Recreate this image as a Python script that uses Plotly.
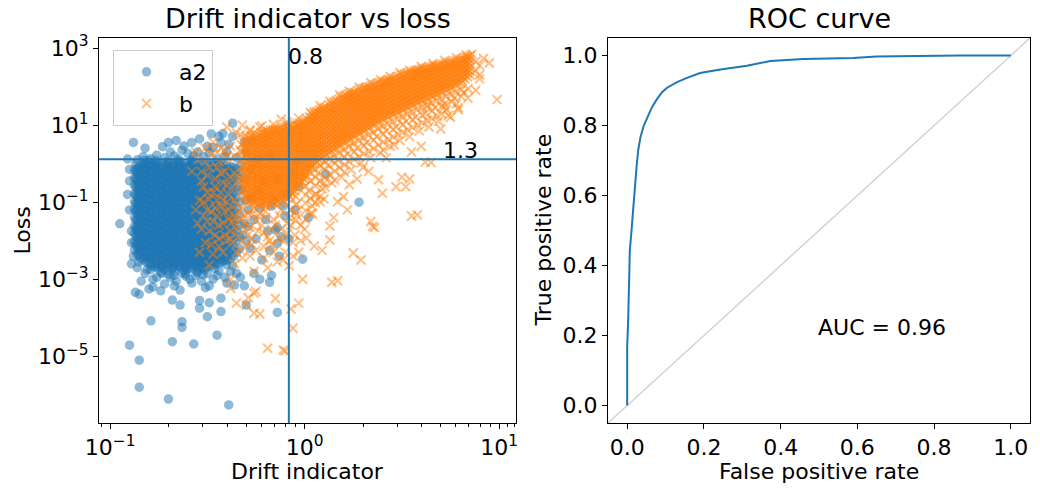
import numpy as np
import plotly.graph_objects as go

# values, in log10 units: (log10 drift indicator, log10 loss)
# dense parts are written column by column: (log10 drift, [log10 loss, ...])
a2_core_columns = [
    (-0.875, [-2.24, -2.03, -1.81, -1.62, -1.40, -1.19, -0.99, -0.78, -0.56, -0.37, -0.16]),
    (-0.8675, [-2.10, -1.88, -1.67, -1.46, -1.24, -1.03, -0.82, -0.61, -0.40, -0.20, 0.00]),
    (-0.860, [-2.35, -2.18, -2.05, -1.90, -1.74, -1.61, -1.46, -1.31, -1.17, -1.01, -0.87, -0.73, -0.57, -0.44, -0.28, -0.12]),
    (-0.8525, [-2.55, -2.38, -2.23, -2.08, -1.93, -1.78, -1.63, -1.48, -1.33, -1.18, -1.03, -0.88, -0.73, -0.58, -0.43, -0.28, -0.13]),
    (-0.845, [-2.46, -2.29, -2.16, -1.99, -1.86, -1.69, -1.55, -1.40, -1.26, -1.09, -0.95, -0.81, -0.64, -0.50, -0.36, -0.19, -0.06]),
    (-0.830, [-2.50, -2.36, -2.20, -2.06, -1.91, -1.77, -1.61, -1.47, -1.32, -1.16, -1.03, -0.86, -0.72, -0.57, -0.42, -0.27, -0.11, 0.00]),
    (-0.8225, [-2.42, -2.28, -2.13, -1.98, -1.83, -1.68, -1.53, -1.38, -1.23, -1.08, -0.93, -0.78, -0.63, -0.48, -0.33, -0.18, -0.03, 0.08]),
    (-0.815, [-2.55, -2.41, -2.24, -2.11, -1.94, -1.81, -1.64, -1.51, -1.35, -1.20, -1.06, -0.89, -0.76, -0.59, -0.46, -0.29, -0.15, 0.01]),
    (-0.800, [-2.60, -2.44, -2.30, -2.14, -2.00, -1.84, -1.70, -1.54, -1.40, -1.24, -1.10, -0.94, -0.80, -0.64, -0.50, -0.34, -0.20, -0.04]),
    (-0.7925, [-2.75, -2.58, -2.43, -2.28, -2.13, -1.98, -1.83, -1.68, -1.53, -1.38, -1.23, -1.08, -0.93, -0.78, -0.63, -0.48, -0.33, -0.18, -0.03]),
    (-0.785, [-2.66, -2.48, -2.35, -2.19, -2.04, -1.88, -1.74, -1.58, -1.43, -1.29, -1.13, -0.98, -0.84, -0.67, -0.53, -0.38, -0.22, -0.08]),
    (-0.770, [-2.68, -2.52, -2.37, -2.22, -2.07, -1.92, -1.77, -1.62, -1.47, -1.32, -1.17, -1.02, -0.87, -0.72, -0.57, -0.42, -0.27, -0.12, 0.01]),
    (-0.7625, [-2.62, -2.45, -2.30, -2.15, -2.00, -1.85, -1.70, -1.55, -1.40, -1.25, -1.10, -0.95, -0.80, -0.65, -0.50, -0.35, -0.20, -0.05, 0.08]),
    (-0.755, [-2.70, -2.56, -2.39, -2.26, -2.09, -1.96, -1.79, -1.66, -1.49, -1.36, -1.19, -1.06, -0.89, -0.76, -0.59, -0.46, -0.29, -0.16, 0.02]),
    (-0.740, [-2.64, -2.49, -2.35, -2.19, -2.05, -1.89, -1.75, -1.59, -1.45, -1.29, -1.15, -0.99, -0.85, -0.69, -0.55, -0.39, -0.25, -0.09]),
    (-0.7325, [-2.85, -2.68, -2.53, -2.38, -2.23, -2.08, -1.93, -1.78, -1.63, -1.48, -1.33, -1.18, -1.03, -0.88, -0.73, -0.58, -0.43, -0.28, -0.13, 0.02]),
    (-0.725, [-2.74, -2.61, -2.46, -2.32, -2.16, -2.02, -1.86, -1.71, -1.57, -1.42, -1.27, -1.12, -0.97, -0.82, -0.68, -0.52, -0.37, -0.23, -0.07]),
    (-0.710, [-2.77, -2.58, -2.43, -2.28, -2.13, -1.98, -1.83, -1.68, -1.53, -1.38, -1.23, -1.08, -0.93, -0.78, -0.63, -0.48, -0.33, -0.18, -0.03]),
    (-0.7025, [-2.63, -2.47, -2.32, -2.17, -2.02, -1.87, -1.72, -1.57, -1.42, -1.27, -1.12, -0.97, -0.82, -0.67, -0.52, -0.37, -0.22, -0.07, 0.06]),
    (-0.695, [-2.69, -2.54, -2.40, -2.24, -2.10, -1.93, -1.80, -1.63, -1.50, -1.34, -1.20, -1.03, -0.90, -0.74, -0.60, -0.44, -0.30, -0.14, 0.03]),
    (-0.680, [-2.72, -2.57, -2.44, -2.29, -2.14, -1.99, -1.84, -1.69, -1.54, -1.39, -1.24, -1.09, -0.94, -0.79, -0.64, -0.49, -0.34, -0.19, -0.04]),
    (-0.6725, [-2.90, -2.70, -2.55, -2.40, -2.25, -2.10, -1.95, -1.80, -1.65, -1.50, -1.35, -1.20, -1.05, -0.90, -0.75, -0.60, -0.45, -0.30, -0.15, 0.00]),
    (-0.665, [-2.79, -2.63, -2.48, -2.33, -2.18, -2.03, -1.88, -1.73, -1.58, -1.43, -1.28, -1.13, -0.98, -0.83, -0.68, -0.53, -0.38, -0.23, -0.08]),
    (-0.650, [-2.66, -2.52, -2.37, -2.22, -2.07, -1.92, -1.77, -1.62, -1.47, -1.32, -1.17, -1.02, -0.87, -0.72, -0.57, -0.42, -0.27, -0.12, 0.03]),
    (-0.6425, [-2.63, -2.48, -2.33, -2.18, -2.03, -1.88, -1.73, -1.58, -1.43, -1.28, -1.13, -0.98, -0.83, -0.68, -0.53, -0.38, -0.23, -0.08, 0.07]),
    (-0.635, [-2.70, -2.56, -2.41, -2.25, -2.11, -1.96, -1.80, -1.66, -1.51, -1.35, -1.21, -1.06, -0.90, -0.76, -0.61, -0.45, -0.31, -0.16, 0.02]),
    (-0.620, [-2.78, -2.64, -2.50, -2.35, -2.20, -2.05, -1.90, -1.75, -1.60, -1.45, -1.30, -1.15, -1.00, -0.85, -0.70, -0.55, -0.40, -0.25, -0.10]),
    (-0.6125, [-2.86, -2.68, -2.54, -2.39, -2.24, -2.09, -1.94, -1.79, -1.64, -1.49, -1.34, -1.19, -1.04, -0.89, -0.74, -0.59, -0.44, -0.29, -0.14, 0.00]),
    (-0.605, [-2.75, -2.61, -2.47, -2.31, -2.17, -2.02, -1.87, -1.72, -1.57, -1.42, -1.27, -1.12, -0.97, -0.82, -0.67, -0.52, -0.37, -0.22, -0.07]),
    (-0.590, [-2.70, -2.55, -2.42, -2.27, -2.12, -1.97, -1.82, -1.67, -1.52, -1.37, -1.22, -1.07, -0.92, -0.77, -0.62, -0.47, -0.32, -0.17, -0.02]),
    (-0.5825, [-2.72, -2.57, -2.43, -2.28, -2.13, -1.98, -1.83, -1.68, -1.53, -1.38, -1.23, -1.08, -0.93, -0.78, -0.63, -0.48, -0.33, -0.18, -0.05, 0.06]),
    (-0.575, [-2.64, -2.50, -2.35, -2.20, -2.05, -1.90, -1.75, -1.60, -1.45, -1.30, -1.15, -1.00, -0.85, -0.70, -0.55, -0.40, -0.25, -0.10, 0.02]),
    (-0.560, [-2.66, -2.52, -2.38, -2.23, -2.09, -1.94, -1.79, -1.64, -1.49, -1.34, -1.19, -1.04, -0.89, -0.74, -0.59, -0.44, -0.29, -0.14, 0.01]),
    (-0.5525, [-2.80, -2.63, -2.49, -2.34, -2.19, -2.04, -1.89, -1.74, -1.59, -1.44, -1.29, -1.14, -0.99, -0.84, -0.69, -0.54, -0.39, -0.24, -0.10]),
    (-0.545, [-2.70, -2.57, -2.42, -2.27, -2.12, -1.97, -1.82, -1.67, -1.52, -1.37, -1.22, -1.07, -0.92, -0.77, -0.62, -0.47, -0.32, -0.17, -0.03]),
    (-0.530, [-2.72, -2.58, -2.44, -2.29, -2.14, -1.99, -1.84, -1.69, -1.54, -1.39, -1.24, -1.09, -0.94, -0.79, -0.64, -0.49, -0.34, -0.19, -0.04]),
    (-0.5225, [-2.88, -2.68, -2.53, -2.38, -2.23, -2.08, -1.93, -1.78, -1.63, -1.48, -1.33, -1.18, -1.03, -0.88, -0.73, -0.58, -0.43, -0.28, -0.13, 0.03]),
    (-0.515, [-2.75, -2.60, -2.46, -2.31, -2.16, -2.01, -1.86, -1.71, -1.56, -1.41, -1.26, -1.11, -0.96, -0.81, -0.66, -0.51, -0.36, -0.21, -0.06]),
    (-0.500, [-2.68, -2.54, -2.40, -2.25, -2.10, -1.95, -1.80, -1.65, -1.50, -1.35, -1.20, -1.05, -0.90, -0.75, -0.60, -0.45, -0.30, -0.15, 0.00]),
    (-0.4925, [-2.58, -2.44, -2.29, -2.15, -2.00, -1.85, -1.70, -1.55, -1.40, -1.25, -1.10, -0.95, -0.80, -0.65, -0.50, -0.35, -0.20, -0.06]),
    (-0.485, [-2.65, -2.51, -2.37, -2.22, -2.08, -1.93, -1.78, -1.63, -1.48, -1.33, -1.18, -1.03, -0.88, -0.73, -0.58, -0.43, -0.28, -0.13, 0.02]),
    (-0.470, [-2.62, -2.48, -2.33, -2.18, -2.03, -1.88, -1.73, -1.58, -1.43, -1.28, -1.13, -0.98, -0.83, -0.68, -0.53, -0.38, -0.23, -0.08]),
    (-0.4625, [-2.72, -2.53, -2.38, -2.23, -2.08, -1.93, -1.78, -1.63, -1.48, -1.33, -1.18, -1.03, -0.88, -0.73, -0.58, -0.43, -0.28, -0.13, 0.04]),
    (-0.455, [-2.60, -2.44, -2.30, -2.15, -2.00, -1.85, -1.70, -1.55, -1.40, -1.25, -1.10, -0.95, -0.80, -0.65, -0.50, -0.35, -0.20, -0.05]),
    (-0.440, [-2.58, -2.42, -2.27, -2.12, -1.97, -1.82, -1.67, -1.52, -1.37, -1.22, -1.07, -0.92, -0.77, -0.62, -0.47, -0.32, -0.17, -0.02]),
    (-0.4325, [-2.48, -2.31, -2.16, -2.01, -1.86, -1.71, -1.56, -1.41, -1.26, -1.11, -0.96, -0.81, -0.66, -0.51, -0.36, -0.21, -0.07]),
    (-0.425, [-2.55, -2.38, -2.23, -2.08, -1.93, -1.78, -1.63, -1.48, -1.33, -1.18, -1.03, -0.88, -0.73, -0.58, -0.43, -0.28, -0.13, 0.00]),
    (-0.410, [-2.52, -2.35, -2.18, -2.01, -1.84, -1.67, -1.50, -1.33, -1.16, -0.99, -0.82, -0.65, -0.48, -0.31, -0.15]),
    (-0.4025, [-2.62, -2.41, -2.22, -2.04, -1.86, -1.68, -1.49, -1.31, -1.13, -0.95, -0.77, -0.59, -0.41, -0.23, -0.05]),
    (-0.395, [-2.50, -2.31, -2.12, -1.95, -1.77, -1.58, -1.40, -1.22, -1.04, -0.86, -0.68, -0.50, -0.32, -0.14]),
    (-0.380, [-2.45, -2.22, -2.00, -1.78, -1.56, -1.34, -1.12, -0.90, -0.68, -0.46, -0.24, -0.08]),
    (-0.3725, [-2.30, -2.05, -1.82, -1.58, -1.35, -1.11, -0.88, -0.64, -0.41, -0.19]),
    (-0.365, [-2.40, -2.17, -1.93, -1.70, -1.46, -1.23, -0.99, -0.76, -0.52, -0.29, -0.10]),
    (-0.350, [-2.30, -2.00, -1.72, -1.45, -1.15, -0.88, -0.60, -0.32, -0.15]),
    (-0.335, [-2.20, -1.90, -1.60, -1.30, -1.00, -0.70, -0.40, -0.20]),
]

a2_extra_points = [
    # ragged edges of the cloud
    (-0.86, 0.10), (-0.83, 0.18), (-0.80, 0.08), (-0.76, 0.22), (-0.72, 0.15), (-0.69, 0.30),
    (-0.65, 0.12), (-0.63, 0.35), (-0.58, 0.10), (-0.55, 0.30), (-0.52, 0.18), (-0.49, 0.28),
    (-0.45, 0.12), (-0.43, 0.55), (-0.41, 0.18), (-0.39, 0.50), (-0.70, 0.55), (-0.82, 0.40),
    (-0.66, 0.60), (-0.58, 0.55),
    (-0.90, -0.45), (-0.90, -1.20), (-0.89, -1.75), (-0.91, -0.80), (-0.89, -2.05), (-0.90, -0.15),
    (-0.88, -2.40), (-0.89, -2.60),
    (-0.86, -2.70), (-0.81, -2.75), (-0.78, -3.00), (-0.74, -2.82), (-0.69, -2.95), (-0.66, -3.05),
    (-0.63, -2.85), (-0.59, -3.00), (-0.56, -2.90), (-0.53, -3.05), (-0.50, -2.85), (-0.47, -3.00),
    (-0.44, -2.78), (-0.41, -2.95), (-0.37, -2.65), (-0.35, -2.85), (-0.80, -3.25), (-0.64, -3.28),
    (-0.51, -3.22), (-0.36, -3.15),
    # thinning out under the b cloud
    (-0.33, -0.05), (-0.32, -0.65), (-0.31, -1.55), (-0.30, -2.00), (-0.28, -0.15), (-0.27, -0.90),
    (-0.26, -1.45), (-0.25, -1.95), (-0.24, 0.10), (-0.23, -1.15), (-0.21, -0.45), (-0.19, -1.75),
    (-0.18, -2.25), (-0.16, -0.95), (-0.13, -2.40), (-0.11, -1.10), (-0.08, -1.95), (-0.05, -1.20),
    (-0.03, -0.60), (0.02, -1.40),
    (-0.31, -0.40), (-0.29, -1.20), (-0.32, -1.85), (-0.30, -0.95), (-0.28, -2.20), (-0.30, 0.30),
    (-0.24, -0.70), (-0.20, -1.45), (-0.17, -1.10), (-0.22, -2.50), (-0.18, 0.20), (-0.14, -0.40),
    (-0.12, -1.90), (-0.09, -0.80), (-0.10, -1.35), (-0.06, -0.20), (-0.04, 0.05),
    # lower fringe
    (-0.82, -2.85), (-0.76, -2.95), (-0.70, -2.88), (-0.61, -2.92), (-0.55, -2.83), (-0.45, -2.90),
    (-0.38, -2.80), (-0.33, -2.95), (-0.26, -2.85), (-0.23, -3.00), (-0.84, -3.05), (-0.58, -3.10),
    (-0.40, -3.10), (-0.72, -3.12),
    # outliers
    (-0.95, -1.56), (-0.91, 0.12), (-0.88, 0.55), (-0.90, -4.71), (-0.85, -5.10), (-0.85, -5.80),
    (-0.70, -6.11), (-0.39, -6.26), (-0.79, -4.08), (-0.68, -4.62), (-0.57, -4.68), (-0.45, -4.45),
    (-0.63, -4.10), (-0.63, -4.25), (-0.50, -3.97), (-0.54, -3.75), (-0.43, -3.84), (-0.49, -3.61),
    (-0.43, -3.49), (-0.54, -3.55), (-0.64, -3.67), (-0.68, -3.54), (-0.30, -3.67), (-0.14, -3.86),
    (-0.87, -3.34), (-0.85, -3.39), (-0.74, -3.30), (-0.67, -3.17), (-0.78, -3.20), (-0.49, -3.17),
    (-0.31, -3.17), (-0.18, -3.08), (-0.17, -2.90), (-0.01, -2.48), (-0.14, -2.07), (0.28, -1.00),
    (0.11, -0.27), (-0.14, -1.66), (-0.15, -1.72), (-0.29, -1.63), (-0.40, -1.29),
    # above the loss threshold
    (-0.73, 0.44), (-0.62, 0.46), (-0.54, 0.64), (-0.48, 0.77), (-0.44, 0.71), (-0.42, 0.78),
    (-0.37, 1.05), (-0.37, 0.71), (-0.50, 0.45), (-0.47, 0.42), (-0.67, 0.20), (-0.60, 0.26),
    (-0.31, 0.56), (-0.27, 0.60), (-0.57, 0.20), (-0.79, 0.13), (-0.40, 0.30), (-0.35, 0.15),
]

b_band_columns = [
    (-0.325, [-0.70, -0.52, -0.41, -0.21, -0.09, 0.11, 0.31, 0.49]),
    (-0.3125, [-0.85, -0.65, -0.45, -0.25, -0.05, 0.15, 0.35, 0.55]),
    (-0.300, [-0.97, -0.86, -0.74, -0.66, -0.55, -0.44, -0.36, -0.24, -0.15, -0.04, 0.06, 0.15, 0.26, 0.36, 0.44, 0.56, 0.64, 0.71]),
    (-0.2875, [-0.95, -0.85, -0.75, -0.65, -0.55, -0.45, -0.35, -0.25, -0.15, -0.05, 0.05, 0.15, 0.25, 0.35, 0.45, 0.55, 0.65]),
    (-0.275, [-1.04, -0.93, -0.82, -0.71, -0.62, -0.50, -0.41, -0.30, -0.19, -0.11, 0.01, 0.10, 0.21, 0.29, 0.41, 0.50, 0.61, 0.72]),
    (-0.2625, [-1.00, -0.90, -0.80, -0.70, -0.60, -0.50, -0.40, -0.30, -0.20, -0.10, 0.00, 0.10, 0.20, 0.30, 0.40, 0.50, 0.60, 0.70]),
    (-0.250, [-1.02, -0.95, -0.84, -0.76, -0.64, -0.54, -0.45, -0.34, -0.26, -0.14, -0.05, 0.06, 0.16, 0.24, 0.36, 0.46, 0.55, 0.66, 0.76]),
    (-0.2375, [-1.05, -0.95, -0.85, -0.75, -0.65, -0.55, -0.45, -0.35, -0.25, -0.15, -0.05, 0.05, 0.15, 0.25, 0.35, 0.45, 0.55, 0.65, 0.75]),
    (-0.225, [-1.09, -0.99, -0.88, -0.80, -0.69, -0.58, -0.49, -0.40, -0.29, -0.19, -0.10, 0.01, 0.11, 0.20, 0.31, 0.40, 0.51, 0.60, 0.71, 0.80]),
    (-0.2125, [-1.05, -0.95, -0.85, -0.75, -0.65, -0.55, -0.45, -0.35, -0.25, -0.15, -0.05, 0.05, 0.15, 0.25, 0.35, 0.45, 0.55, 0.65, 0.75, 0.82]),
    (-0.200, [-1.10, -1.01, -0.93, -0.84, -0.72, -0.64, -0.55, -0.44, -0.35, -0.24, -0.15, -0.05, 0.05, 0.15, 0.25, 0.35, 0.45, 0.55, 0.65, 0.76, 0.85]),
    (-0.1875, [-1.03, -0.93, -0.83, -0.73, -0.63, -0.53, -0.43, -0.33, -0.23, -0.13, -0.03, 0.07, 0.17, 0.27, 0.37, 0.47, 0.57, 0.67, 0.77, 0.84]),
    (-0.175, [-1.06, -0.97, -0.88, -0.78, -0.69, -0.59, -0.50, -0.39, -0.30, -0.20, -0.11, 0.00, 0.09, 0.20, 0.30, 0.39, 0.50, 0.60, 0.70, 0.80, 0.87]),
    (-0.1625, [-1.00, -0.90, -0.80, -0.70, -0.60, -0.50, -0.40, -0.30, -0.20, -0.10, 0.00, 0.10, 0.20, 0.30, 0.40, 0.50, 0.60, 0.70, 0.80, 0.88]),
    (-0.150, [-1.04, -0.93, -0.84, -0.74, -0.64, -0.55, -0.45, -0.34, -0.25, -0.15, -0.06, 0.05, 0.14, 0.24, 0.35, 0.44, 0.55, 0.64, 0.75, 0.84, 0.90]),
    (-0.1375, [-0.98, -0.88, -0.78, -0.68, -0.58, -0.48, -0.38, -0.28, -0.18, -0.08, 0.02, 0.12, 0.22, 0.32, 0.42, 0.52, 0.62, 0.72, 0.82, 0.90]),
    (-0.125, [-1.01, -0.90, -0.79, -0.70, -0.60, -0.50, -0.41, -0.30, -0.20, -0.10, 0.00, 0.10, 0.19, 0.30, 0.40, 0.50, 0.60, 0.70, 0.80, 0.91]),
    (-0.1125, [-0.95, -0.85, -0.75, -0.65, -0.55, -0.45, -0.35, -0.25, -0.15, -0.05, 0.05, 0.15, 0.25, 0.35, 0.45, 0.55, 0.65, 0.75, 0.85, 0.93]),
    (-0.100, [-0.99, -0.88, -0.76, -0.65, -0.55, -0.45, -0.36, -0.25, -0.15, -0.05, 0.05, 0.15, 0.26, 0.35, 0.45, 0.55, 0.65, 0.75, 0.85, 0.95]),
    (-0.0875, [-0.90, -0.80, -0.70, -0.60, -0.50, -0.40, -0.30, -0.20, -0.10, 0.00, 0.10, 0.20, 0.30, 0.40, 0.50, 0.60, 0.70, 0.80, 0.90, 0.97]),
    (-0.075, [-0.84, -0.74, -0.64, -0.53, -0.44, -0.34, -0.24, -0.14, -0.04, 0.06, 0.16, 0.26, 0.36, 0.46, 0.56, 0.66, 0.76, 0.86, 0.98]),
    (-0.0625, [-0.78, -0.68, -0.58, -0.48, -0.38, -0.28, -0.18, -0.08, 0.02, 0.12, 0.22, 0.32, 0.42, 0.52, 0.62, 0.72, 0.82, 0.92, 1.00]),
    (-0.050, [-0.70, -0.59, -0.49, -0.40, -0.30, -0.20, -0.10, 0.00, 0.10, 0.20, 0.30, 0.40, 0.50, 0.60, 0.70, 0.80, 0.90, 1.01]),
    (-0.0375, [-0.62, -0.52, -0.42, -0.32, -0.22, -0.12, -0.02, 0.08, 0.18, 0.28, 0.38, 0.48, 0.58, 0.68, 0.78, 0.88, 0.98, 1.04]),
    (-0.025, [-0.54, -0.45, -0.35, -0.24, -0.15, -0.05, 0.05, 0.15, 0.25, 0.35, 0.45, 0.55, 0.65, 0.75, 0.85, 0.95, 1.05]),
    (-0.0125, [-0.47, -0.37, -0.27, -0.17, -0.07, 0.03, 0.13, 0.23, 0.33, 0.43, 0.53, 0.63, 0.73, 0.83, 0.93, 1.03, 1.08]),
    (0.000, [-0.40, -0.30, -0.20, -0.10, 0.00, 0.10, 0.20, 0.30, 0.40, 0.50, 0.60, 0.70, 0.80, 0.90, 1.00, 1.10]),
    (0.0125, [-0.30, -0.20, -0.10, 0.00, 0.10, 0.20, 0.30, 0.40, 0.50, 0.60, 0.70, 0.80, 0.90, 1.00, 1.10, 1.16]),
    (0.025, [-0.20, -0.11, 0.00, 0.09, 0.19, 0.30, 0.40, 0.49, 0.60, 0.70, 0.80, 0.90, 1.00, 1.11, 1.21]),
    (0.0375, [-0.10, 0.00, 0.10, 0.20, 0.30, 0.40, 0.50, 0.60, 0.70, 0.80, 0.90, 1.00, 1.10, 1.20, 1.28]),
    (0.050, [0.00, 0.11, 0.21, 0.30, 0.41, 0.50, 0.61, 0.70, 0.81, 0.91, 1.01, 1.11, 1.21, 1.30, 1.35]),
    (0.0625, [0.05, 0.15, 0.25, 0.35, 0.45, 0.55, 0.65, 0.75, 0.85, 0.95, 1.05, 1.15, 1.25, 1.35]),
    (0.075, [0.10, 0.20, 0.31, 0.41, 0.50, 0.60, 0.71, 0.81, 0.90, 1.00, 1.10, 1.20, 1.30, 1.39]),
    (0.0875, [0.15, 0.25, 0.35, 0.45, 0.55, 0.65, 0.75, 0.85, 0.95, 1.05, 1.15, 1.25, 1.35, 1.42]),
    (0.100, [0.20, 0.30, 0.40, 0.50, 0.61, 0.71, 0.80, 0.90, 1.01, 1.11, 1.20, 1.30, 1.40, 1.45]),
    (0.1125, [0.25, 0.35, 0.45, 0.55, 0.65, 0.75, 0.85, 0.95, 1.05, 1.15, 1.25, 1.35, 1.45]),
    (0.125, [0.29, 0.39, 0.49, 0.60, 0.70, 0.79, 0.90, 1.00, 1.10, 1.20, 1.30, 1.41, 1.52]),
    (0.1375, [0.34, 0.44, 0.54, 0.64, 0.74, 0.84, 0.94, 1.04, 1.14, 1.24, 1.34, 1.44, 1.55]),
    (0.150, [0.38, 0.49, 0.59, 0.69, 0.80, 0.90, 1.00, 1.10, 1.20, 1.31, 1.40, 1.50, 1.60]),
    (0.1625, [0.42, 0.52, 0.62, 0.72, 0.82, 0.92, 1.02, 1.12, 1.22, 1.32, 1.42, 1.52, 1.63]),
    (0.175, [0.46, 0.56, 0.66, 0.76, 0.86, 0.96, 1.06, 1.16, 1.27, 1.37, 1.47, 1.57, 1.67]),
    (0.1875, [0.50, 0.60, 0.70, 0.80, 0.90, 1.00, 1.10, 1.20, 1.30, 1.40, 1.50, 1.60, 1.71]),
    (0.200, [0.55, 0.65, 0.75, 0.85, 0.95, 1.05, 1.15, 1.25, 1.35, 1.45, 1.55, 1.65, 1.75]),
    (0.2125, [0.58, 0.68, 0.78, 0.88, 0.98, 1.08, 1.18, 1.28, 1.38, 1.48, 1.58, 1.68, 1.77]),
    (0.225, [0.62, 0.72, 0.83, 0.93, 1.03, 1.12, 1.22, 1.33, 1.43, 1.52, 1.62, 1.71, 1.80]),
    (0.2375, [0.66, 0.76, 0.86, 0.96, 1.06, 1.16, 1.26, 1.36, 1.46, 1.56, 1.66, 1.76, 1.83]),
    (0.250, [0.70, 0.80, 0.90, 1.00, 1.10, 1.20, 1.30, 1.40, 1.50, 1.60, 1.70, 1.79, 1.85]),
    (0.2625, [0.74, 0.84, 0.94, 1.04, 1.14, 1.24, 1.34, 1.44, 1.54, 1.64, 1.74, 1.84]),
    (0.275, [0.78, 0.88, 0.98, 1.08, 1.18, 1.28, 1.38, 1.48, 1.58, 1.68, 1.78, 1.90]),
    (0.2875, [0.82, 0.92, 1.02, 1.12, 1.22, 1.32, 1.42, 1.52, 1.62, 1.72, 1.82, 1.92]),
    (0.300, [0.85, 0.95, 1.05, 1.15, 1.25, 1.35, 1.45, 1.55, 1.65, 1.75, 1.85, 1.95]),
    (0.3125, [0.89, 0.99, 1.09, 1.19, 1.29, 1.39, 1.49, 1.59, 1.69, 1.79, 1.89, 1.97]),
    (0.325, [0.93, 1.03, 1.13, 1.23, 1.33, 1.43, 1.53, 1.63, 1.73, 1.83, 1.92, 1.99]),
    (0.3375, [0.96, 1.06, 1.16, 1.26, 1.36, 1.46, 1.56, 1.66, 1.76, 1.86, 1.96, 2.01]),
    (0.350, [1.00, 1.10, 1.20, 1.30, 1.40, 1.50, 1.60, 1.70, 1.80, 1.90, 2.03]),
    (0.3625, [1.04, 1.14, 1.24, 1.34, 1.44, 1.54, 1.64, 1.74, 1.84, 1.94, 2.05]),
    (0.375, [1.08, 1.18, 1.28, 1.38, 1.48, 1.58, 1.68, 1.78, 1.88, 1.98, 2.08]),
    (0.3875, [1.12, 1.22, 1.32, 1.42, 1.52, 1.62, 1.72, 1.82, 1.92, 2.02, 2.10]),
    (0.400, [1.16, 1.26, 1.36, 1.46, 1.56, 1.66, 1.76, 1.86, 1.96, 2.05, 2.12]),
    (0.4125, [1.19, 1.29, 1.39, 1.49, 1.59, 1.69, 1.79, 1.89, 1.99, 2.09, 2.14]),
    (0.425, [1.22, 1.32, 1.42, 1.52, 1.62, 1.72, 1.82, 1.92, 2.02, 2.10, 2.16]),
    (0.4375, [1.25, 1.35, 1.45, 1.55, 1.65, 1.75, 1.85, 1.95, 2.05, 2.15, 2.18]),
    (0.450, [1.28, 1.38, 1.48, 1.58, 1.68, 1.78, 1.88, 1.98, 2.08, 2.20]),
    (0.4625, [1.31, 1.41, 1.51, 1.61, 1.71, 1.81, 1.91, 2.01, 2.11, 2.22]),
    (0.475, [1.34, 1.44, 1.54, 1.64, 1.74, 1.84, 1.94, 2.04, 2.14, 2.25]),
    (0.4875, [1.37, 1.47, 1.57, 1.67, 1.77, 1.87, 1.97, 2.07, 2.17, 2.27]),
    (0.500, [1.40, 1.50, 1.60, 1.70, 1.80, 1.90, 2.00, 2.10, 2.20, 2.30]),
    (0.5125, [1.43, 1.53, 1.63, 1.73, 1.83, 1.93, 2.03, 2.13, 2.23, 2.32]),
    (0.525, [1.46, 1.56, 1.66, 1.76, 1.86, 1.96, 2.06, 2.16, 2.26, 2.34]),
    (0.5375, [1.49, 1.59, 1.69, 1.79, 1.89, 1.99, 2.09, 2.19, 2.29, 2.36]),
    (0.550, [1.52, 1.62, 1.72, 1.82, 1.92, 2.02, 2.12, 2.22, 2.31, 2.38]),
    (0.5625, [1.55, 1.65, 1.75, 1.85, 1.95, 2.05, 2.15, 2.25, 2.34, 2.40]),
    (0.575, [1.58, 1.68, 1.78, 1.88, 1.98, 2.08, 2.18, 2.28, 2.36, 2.42]),
    (0.5875, [1.61, 1.71, 1.81, 1.91, 2.01, 2.11, 2.21, 2.31, 2.40, 2.44]),
    (0.600, [1.65, 1.75, 1.85, 1.95, 2.05, 2.15, 2.25, 2.35, 2.45]),
    (0.6125, [1.67, 1.77, 1.87, 1.97, 2.07, 2.17, 2.27, 2.37, 2.46]),
    (0.625, [1.70, 1.80, 1.90, 2.00, 2.10, 2.20, 2.30, 2.40, 2.48]),
    (0.6375, [1.72, 1.82, 1.92, 2.02, 2.12, 2.22, 2.32, 2.42, 2.50]),
    (0.650, [1.75, 1.85, 1.95, 2.05, 2.15, 2.25, 2.35, 2.44, 2.51]),
    (0.6625, [1.77, 1.87, 1.97, 2.07, 2.17, 2.27, 2.37, 2.46, 2.53]),
    (0.675, [1.80, 1.90, 2.00, 2.10, 2.20, 2.30, 2.40, 2.48, 2.54]),
    (0.6875, [1.83, 1.93, 2.03, 2.13, 2.23, 2.33, 2.43, 2.51, 2.56]),
    (0.700, [1.86, 1.96, 2.06, 2.16, 2.26, 2.36, 2.46, 2.57]),
    (0.7125, [1.89, 1.99, 2.09, 2.19, 2.29, 2.39, 2.49, 2.58]),
    (0.725, [1.92, 2.02, 2.12, 2.22, 2.32, 2.42, 2.52, 2.60]),
    (0.7375, [1.95, 2.05, 2.15, 2.25, 2.35, 2.45, 2.54, 2.62]),
    (0.750, [1.98, 2.08, 2.18, 2.28, 2.38, 2.48, 2.56, 2.63]),
    (0.7625, [2.01, 2.11, 2.21, 2.31, 2.41, 2.51, 2.60, 2.65]),
    (0.775, [2.05, 2.15, 2.25, 2.35, 2.45, 2.55, 2.67]),
    (0.7875, [2.08, 2.18, 2.28, 2.38, 2.48, 2.58, 2.68]),
    (0.800, [2.10, 2.20, 2.30, 2.40, 2.50, 2.60, 2.70]),
    (0.8125, [2.15, 2.25, 2.35, 2.45, 2.55, 2.65, 2.72]),
    (0.825, [2.20, 2.30, 2.40, 2.50, 2.60, 2.68, 2.75]),
    (0.8375, [2.25, 2.35, 2.45, 2.55, 2.65, 2.74, 2.78]),
    (0.850, [2.30, 2.40, 2.50, 2.60, 2.70, 2.80]),
]

# thinner spread just under the band
b_under_columns = [
    (-0.045, [-0.85, -1.07, -1.26, -1.47]), (0.005, [-0.58, -0.81, -1.02, -1.22, -1.44]),
    (0.030, [-0.45, -0.90, -1.30]), (0.055, [-0.14, -0.36, -0.57, -0.79, -1.01]),
    (0.080, [-0.05, -0.45, -0.85]), (0.105, [0.06, -0.16, -0.37, -0.61]), (0.130, [0.12, -0.28]),
    (0.155, [0.21, 0.01, -0.19, -0.43]), (0.180, [0.28, -0.10]), (0.205, [0.37, 0.17, -0.03, -0.22]),
    (0.230, [0.45, 0.05]), (0.255, [0.53, 0.31, 0.11]), (0.280, [0.60, 0.18]),
    (0.305, [0.67, 0.47, 0.26]), (0.330, [0.74, 0.32]), (0.355, [0.81, 0.61, 0.39]),
    (0.380, [0.90, 0.48]), (0.405, [0.97, 0.77, 0.56, 0.35]), (0.430, [1.03, 0.62]),
    (0.455, [1.09, 0.89, 0.69]), (0.480, [1.15, 0.76]), (0.505, [1.21, 1.01, 0.81]),
    (0.530, [1.28, 0.88]), (0.555, [1.34, 1.14, 0.94]), (0.580, [1.40, 1.00]),
    (0.605, [1.47, 1.27, 1.06]), (0.630, [1.52, 1.12]), (0.655, [1.57, 1.37, 1.17]),
    (0.680, [1.62, 1.24]), (0.705, [1.67, 1.49, 1.29]), (0.730, [1.74, 1.40]),
    (0.755, [1.79, 1.61]), (0.780, [1.85, 1.55]), (0.805, [1.91, 1.74]),
]

b_extra_points = [
    # mixed into the a2 cloud
    (-0.55, -1.55), (-0.55, 0.10), (-0.54, -2.30), (-0.53, -0.20), (-0.52, -1.00), (-0.51, -2.05),
    (-0.51, 0.40), (-0.50, -0.75), (-0.50, -1.50), (-0.49, -0.10), (-0.48, -1.25), (-0.48, 0.25),
    (-0.47, -2.35), (-0.46, -0.60), (-0.46, -1.85), (-0.45, -0.95), (-0.45, -1.35), (-0.44, 0.05),
    (-0.44, -2.15), (-0.43, -1.10), (-0.42, -0.50), (-0.42, -1.55), (-0.41, 0.35), (-0.41, -0.20),
    (-0.40, -1.00), (-0.40, -2.00), (-0.39, -0.80), (-0.39, -1.20), (-0.38, 0.45), (-0.38, -1.95),
    (-0.37, -0.60), (-0.37, -1.50), (-0.36, 0.20), (-0.36, -0.25), (-0.35, -1.05), (-0.35, -2.30),
    (-0.34, -0.45), (-0.34, -1.90), (-0.33, 0.35), (-0.33, -1.45), (-0.32, -1.15), (-0.32, -2.45),
    (-0.31, -1.70), (-0.30, -2.15), (-0.29, -1.30), (-0.28, -1.65), (-0.27, -1.95), (-0.26, -1.15),
    (-0.25, -2.25), (-0.24, -1.35), (-0.22, -1.60), (-0.21, -2.45), (-0.20, -1.25), (-0.19, -1.90),
    (-0.17, -2.10), (-0.15, -1.60), (-0.13, -1.95), (-0.12, -1.20), (-0.11, -2.50), (-0.09, -1.80),
    (-0.07, -1.60), (-0.06, -2.40), (-0.04, -1.35), (-0.02, -2.00), (0.00, -1.70),
    (-0.53, -1.70), (-0.49, -0.92), (-0.49, -2.63), (-0.52, -0.60), (-0.50, -1.20), (-0.47, -1.50),
    (-0.46, -0.40), (-0.45, -0.10), (-0.44, -1.95), (-0.43, -0.75), (-0.42, -2.30), (-0.41, -1.25),
    (-0.40, -0.55), (-0.39, 0.10), (-0.38, -1.75), (-0.38, -3.00), (-0.38, -3.24), (-0.36, -2.60),
    (-0.36, -1.40), (-0.35, 0.80), (-0.32, -2.00), (-0.32, 1.00), (-0.30, -1.55), (-0.28, -2.40),
    (-0.27, -1.30), (-0.26, -2.80), (-0.24, -1.75), (-0.23, 0.95), (-0.21, -2.15), (-0.20, -1.40),
    (-0.19, -2.70), (-0.17, -1.70), (-0.16, -2.30), (-0.13, -1.35), (-0.12, 1.15), (-0.11, -2.00),
    (-0.09, -1.55), (-0.08, -2.65), (-0.07, -1.20), (-0.05, -1.85), (-0.04, -1.05), (-0.03, -2.30),
    (-0.56, 0.30), (-0.58, -0.20), (-0.47, 0.55), (-0.43, 0.40), (-0.28, 0.85), (-0.40, 0.95),
    (-0.54, -0.95), (-0.52, -1.35), (-0.51, 0.05), (-0.50, -0.30), (-0.48, -2.10), (-0.47, -0.75),
    (-0.46, -1.15), (-0.45, 0.30), (-0.44, -1.60), (-0.43, -0.25), (-0.42, -0.95), (-0.41, -1.85),
    (-0.40, 0.20), (-0.39, -1.45), (-0.38, -0.35), (-0.37, -2.05), (-0.36, -0.95), (-0.35, -1.70),
    (-0.34, -1.25), (-0.33, -2.25), (-0.33, 0.75), (-0.31, -1.35), (-0.29, -1.85), (-0.27, -2.10),
    (-0.25, -1.50), (-0.23, -1.30), (-0.21, -1.80), (-0.18, -2.00), (-0.16, -1.45), (-0.14, -2.55),
    (-0.12, -1.70), (-0.10, -2.30), (-0.08, -1.40), (-0.06, -2.05), (-0.02, -1.60), (-0.53, -0.45),
    (-0.49, -1.75), (-0.56, -1.20),
    # extra spread under the band
    (0.02, -0.70), (0.04, -1.10), (0.07, -0.25), (0.09, -0.65), (0.12, -0.05), (0.14, -0.50),
    (0.17, 0.10), (0.19, -0.35), (0.22, 0.25), (0.24, -0.15), (0.27, 0.40), (0.29, 0.02),
    (0.32, 0.55), (0.34, 0.15), (0.37, 0.70), (0.39, 0.28), (0.42, 0.85), (0.44, 0.45),
    (0.47, 0.95), (0.49, 0.60), (0.52, 1.10), (0.54, 0.70), (0.57, 1.20), (0.59, 0.85),
    (0.62, 1.30), (0.64, 0.95), (0.67, 1.45), (0.69, 1.10), (0.72, 1.55), (0.74, 1.25),
    (0.77, 1.70), (0.79, 1.45), (0.82, 1.85), (0.84, 1.95),
    # low-loss outliers
    (-0.03, -3.62), (-0.06, -4.27), (-0.07, -3.77), (-0.11, -4.84), (-0.10, -4.86), (-0.19, -4.79),
    (-0.15, -3.50), (-0.26, -3.88), (-0.23, -3.90), (-0.30, -3.67), (-0.35, -3.62), (-0.26, -3.36),
    (-0.25, -3.32), (-0.29, -3.48), (-0.01, -3.00), (0.17, -3.04), (0.14, -3.08), (0.13, -1.98),
    (0.13, -1.62), (0.09, -2.25), (0.01, -1.93), (0.05, -2.14), (0.25, -2.32), (0.29, -2.50),
    (0.34, -1.50), (0.35, -1.63), (0.36, -1.66), (0.55, -1.36), (0.58, -1.33), (0.20, -0.86),
    (0.17, -0.99), (0.08, -0.99), (0.10, -0.50), (0.10, -0.92), (0.50, -0.35), (0.47, -0.60),
    (0.62, 0.04), (0.65, 0.03), (0.40, -0.77), (0.38, -0.42), (0.52, -0.60), (0.54, -0.40),
    (0.46, 0.49), (0.55, 0.30), (0.60, 0.45), (0.27, -0.40), (0.30, -0.10), (0.23, -0.55),
    (0.04, -1.30), (0.06, -0.80), (0.15, -1.40), (0.22, -1.20), (0.33, -0.20), (0.42, 0.15),
    (0.70, 0.90), (0.75, 1.20), (0.79, 1.40), (0.72, 1.48), (0.63, 1.48), (0.84, 1.70), (0.88, 1.90),
    # upper fringe and right tail
    (-0.28, 0.88), (-0.22, 0.98), (-0.16, 1.02), (-0.09, 1.08), (-0.03, 1.18), (0.03, 1.33),
    (0.08, 1.50), (0.13, 1.62), (0.18, 1.78), (0.23, 1.88), (0.28, 1.98), (0.34, 2.10),
    (0.39, 2.18), (0.44, 2.26), (0.49, 2.36), (0.54, 2.42), (0.60, 2.52), (0.66, 2.60),
    (0.72, 2.68), (0.78, 2.75), (0.83, 2.82), (0.86, 2.84), (0.92, 2.73), (0.95, 2.61),
    (0.99, 1.66), (0.90, 2.55), (0.88, 2.40), (0.88, 2.65), (0.90, 2.30), (0.90, 2.20),
]

drift_threshold = 0.83
loss_threshold = 1.3

roc_fpr = [0.0, 0.0, 0.0026, 0.0043, 0.0069, 0.0113, 0.0156, 0.0199, 0.0243, 0.0286, 0.0347,
           0.0433, 0.0563, 0.065, 0.078, 0.091, 0.104, 0.13, 0.156, 0.19, 0.243, 0.312, 0.373,
           0.459, 0.589, 0.65, 0.867, 1.0]
roc_tpr = [0.0, 0.167, 0.244, 0.377, 0.443, 0.5, 0.567, 0.624, 0.68, 0.728, 0.767,
           0.8, 0.829, 0.853, 0.876, 0.895, 0.908, 0.924, 0.936, 0.95, 0.96, 0.971, 0.984,
           0.99, 0.993, 0.997, 1.0, 1.0]
auc = 0.96

x_tickvals = [0.1, 1, 10]
x_ticktext = ["10<sup>\u22121</sup>", "10<sup>0</sup>", "10<sup>1</sup>"]
x_minor = [0.09, 0.2, 0.3, 0.4, 0.5, 0.6, 0.7, 0.8, 0.9, 2, 3, 4, 5, 6, 7, 8, 9, 11, 12]
y_tickvals = [1e-5, 1e-3, 1e-1, 1e1, 1e3]
y_ticktext = ["10<sup>\u22125</sup>", "10<sup>\u22123</sup>", "10<sup>\u22121</sup>",
              "10<sup>1</sup>", "10<sup>3</sup>"]
roc_ticks = [0, 0.2, 0.4, 0.6, 0.8, 1.0]
roc_ticktext = ["0.0", "0.2", "0.4", "0.6", "0.8", "1.0"]

BLUE = "#1f77b4"
ORANGE = "#ff7f0e"
FONT = "DejaVu Sans"


def expand(columns):
    return [(x, y) for x, ys in columns for y in ys]


a2 = 10 ** np.array(expand(a2_core_columns) + a2_extra_points)
b = 10 ** np.array(expand(b_band_columns) + expand(b_under_columns) + b_extra_points)

fig = go.Figure()

fig.add_trace(
    go.Scatter(
        x=a2[:, 0], y=a2[:, 1], mode="markers", name="a2",
        marker=dict(symbol="circle", size=8, color=BLUE, opacity=0.5, line=dict(width=1.5, color=BLUE)),
        xaxis="x", yaxis="y",
    )
)
fig.add_trace(
    go.Scatter(
        x=b[:, 0], y=b[:, 1], mode="markers", name="b",
        marker=dict(symbol="x-thin-open", size=9, color=ORANGE, opacity=0.5, line=dict(width=2, color=ORANGE)),
        xaxis="x", yaxis="y",
    )
)

fig.add_trace(
    go.Scatter(
        x=[-0.05, 1.05], y=[-0.05, 1.05], mode="lines",
        line=dict(color="lightgray", width=1.5), showlegend=False,
        xaxis="x2", yaxis="y2",
    )
)
fig.add_trace(
    go.Scatter(
        x=roc_fpr, y=roc_tpr, mode="lines",
        line=dict(color=BLUE, width=2), showlegend=False,
        xaxis="x2", yaxis="y2",
    )
)

# threshold lines
fig.add_shape(type="line", xref="x", yref="y domain", x0=drift_threshold, x1=drift_threshold,
              y0=0, y1=1, line=dict(color=BLUE, width=2))
fig.add_shape(type="line", xref="x domain", yref="y", x0=0, x1=1,
              y0=loss_threshold, y1=loss_threshold, line=dict(color=BLUE, width=2))

fig.add_annotation(x=np.log10(drift_threshold), y=2.4, xref="x", yref="y", text=f"{drift_threshold:.1f}",
                   showarrow=False, xanchor="left", yanchor="bottom", xshift=-3,
                   font=dict(size=22, color="black", family=FONT))
fig.add_annotation(x=np.log10(5), y=np.log10(loss_threshold), xref="x", yref="y", text=f"{loss_threshold:.1f}",
                   showarrow=False, xanchor="left", yanchor="bottom", yshift=-6,
                   font=dict(size=22, color="black", family=FONT))
fig.add_annotation(x=0.5, y=0.2, xref="x2", yref="y2", text=f"AUC = {auc:.2f}",
                   showarrow=False, xanchor="left", yanchor="bottom", xshift=-3, yshift=-6,
                   font=dict(size=22, color="black", family=FONT))

# titles and axis labels
left_dom = [99 / 1040, 516 / 1040]
right_dom = [608 / 1040, 1030 / 1040]
y_dom = [73 / 496, 458 / 496]
for txt, xc in [("Drift indicator vs loss", sum(left_dom) / 2), ("ROC curve", sum(right_dom) / 2)]:
    fig.add_annotation(x=xc, y=y_dom[1] + 0.005, xref="paper", yref="paper", text=txt, showarrow=False,
                       xanchor="center", yanchor="bottom", font=dict(size=27, color="black", family=FONT))
for txt, xc in [("Drift indicator", sum(left_dom) / 2), ("False positive rate", sum(right_dom) / 2)]:
    fig.add_annotation(x=xc, y=0.05, xref="paper", yref="paper", text=txt, showarrow=False,
                       xanchor="center", yanchor="middle", font=dict(size=22, color="black", family=FONT))
for txt, xc in [("Loss", 22 / 1040), ("True positive rate", 543 / 1040)]:
    fig.add_annotation(x=xc, y=sum(y_dom) / 2, xref="paper", yref="paper", text=txt, showarrow=False,
                       textangle=-90, xanchor="center", yanchor="middle",
                       font=dict(size=22, color="black", family=FONT))

axis_common = dict(showline=True, mirror=True, linecolor="black", linewidth=1, ticks="outside",
                   ticklen=5, tickwidth=1, tickcolor="black", showgrid=False, zeroline=False,
                   automargin=False, tickfont=dict(size=22, color="black", family=FONT))

fig.update_layout(
    width=1040, height=496,
    margin=dict(l=0, r=0, t=0, b=0, autoexpand=False),
    paper_bgcolor="white", plot_bgcolor="white",
    font=dict(family=FONT, color="black"),
    xaxis=dict(domain=left_dom, type="log", range=[-1.057, 1.087], anchor="y",
               tickvals=x_tickvals, ticktext=x_ticktext,
               minor=dict(ticks="outside", ticklen=3, tickcolor="black", tickvals=x_minor),
               **axis_common),
    yaxis=dict(domain=y_dom, type="log", range=[-6.73, 3.26], anchor="x",
               tickvals=y_tickvals, ticktext=y_ticktext, **axis_common),
    xaxis2=dict(domain=right_dom, range=[-0.05, 1.05], anchor="y2",
                tickvals=roc_ticks, ticktext=roc_ticktext, **axis_common),
    yaxis2=dict(domain=y_dom, range=[-0.05, 1.05], anchor="x2",
                tickvals=roc_ticks, ticktext=roc_ticktext, **axis_common),
    legend=dict(x=113 / 1040, y=1 - 50 / 496, xanchor="left", yanchor="top",
                bordercolor="#cccccc", borderwidth=1, bgcolor="rgba(255,255,255,0.8)",
                font=dict(size=22, color="black", family=FONT), itemwidth=55,
                tracegroupgap=0),
    showlegend=True,
)

fig.write_html("out.html", config={"displayModeBar": False},
               post_script="document.body.style.margin = '0';")
